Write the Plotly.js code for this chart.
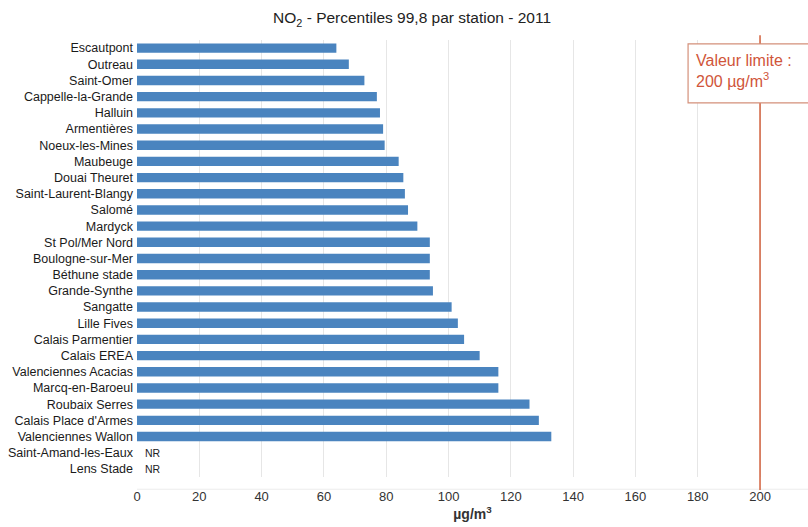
<!DOCTYPE html>
<html><head><meta charset="utf-8">
<script src="https://cdn.plot.ly/plotly-3.0.1.min.js"></script>
<style>body{margin:0;background:#fff}#c{width:808px;height:527px}</style>
</head><body><div id="c"></div>
<script>
const stations = ["Escautpont","Outreau","Saint-Omer","Cappelle-la-Grande","Halluin","Armentières","Noeux-les-Mines","Maubeuge","Douai Theuret","Saint-Laurent-Blangy","Salomé","Mardyck","St Pol/Mer Nord","Boulogne-sur-Mer","Béthune stade","Grande-Synthe","Sangatte","Lille Fives","Calais Parmentier","Calais EREA","Valenciennes Acacias","Marcq-en-Baroeul","Roubaix Serres","Calais Place d'Armes","Valenciennes Wallon","Saint-Amand-les-Eaux","Lens Stade"];
const values = [64,68,73,77,78,79,79.5,84,85.5,86,87,90,94,94,94,95,101,103,105,110,116,116,126,129,133,null,null];
const missingLabel = "NR";
const limitValue = 200;
const xTicks = [0,20,40,60,80,100,120,140,160,180,200];

const FONT = 'Liberation Sans, Arial, sans-serif';
const nrAnn = stations.filter((s,i)=>values[i]===null).map(s=>({
  x:0, y:s, xref:'x', yref:'y', text:missingLabel, showarrow:false,
  xanchor:'left', xshift:6, font:{family:FONT, size:10.5, color:'#222'}
}));

Plotly.newPlot('c',[{
  type:'bar', orientation:'h', y:stations, x:values,
  marker:{color:'#4a84bf'}, hoverinfo:'x+y'
}],{
  width:808, height:527,
  margin:{l:137, r:0, t:40, b:50},
  paper_bgcolor:'#fff', plot_bgcolor:'#fff',
  bargap:0.42,
  title:{text:'NO<sub>2</sub> - Percentiles 99,8 par station - 2011', x:0.51, xref:'container', xanchor:'center', y:0.966, yanchor:'middle', font:{family:FONT, size:15.5, color:'#222'}},
  xaxis:{range:[0,215.4], tickvals:xTicks, showgrid:true, gridcolor:'#e6e6e6', zeroline:false, showline:false,
    tickfont:{family:FONT, size:13, color:'#333'}, ticks:'', ticklabelstandoff:10,
    title:{text:'<b>µg/m<sup>3</sup></b>', font:{family:FONT, size:14, color:'#333'}, standoff:6}},
  yaxis:{autorange:'reversed', showgrid:false, zeroline:false, showline:false, ticks:'', ticklabelstandoff:3,
    tickfont:{family:FONT, size:12.5, color:'#1a1a1a'}},
  shapes:[
    {type:'line', xref:'paper', yref:'paper', x0:0, x1:1, y0:-0.028, y1:-0.028, line:{color:'#ececec', width:1}},
    {type:'line', xref:'x', yref:'paper', x0:limitValue, x1:limitValue, y0:-0.03, y1:1.011, line:{color:'#d2603c', width:1.5}},
    {type:'rect', xref:'x', yref:'paper', x0:176.9, x1:216, y0:0.856, y1:0.991, fillcolor:'#fff', line:{color:'#d4907a', width:1.2}, layer:'above'}
  ],
  annotations:[...nrAnn, {
    xref:'x', yref:'paper', x:176.9, y:0.991, xanchor:'left', yanchor:'top', align:'left', showarrow:false,
    text:'Valeur limite :<br>200 µg/m<sup>3</sup>', borderpad:7,
    font:{family:FONT, size:16, color:'#d0553a'}
  }],
  showlegend:false
},{displayModeBar:false, staticPlot:true});
</script></body></html>
